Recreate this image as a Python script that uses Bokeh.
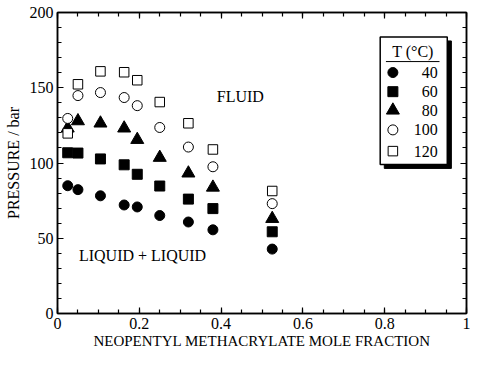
from bokeh.plotting import figure
from bokeh.models import FixedTicker, LinearAxis, Range1d, Label
from bokeh.embed import file_html
from bokeh.resources import INLINE

# ---- data ----
mole_fraction = [0.025, 0.05, 0.105, 0.163, 0.195, 0.25, 0.32, 0.38, 0.525]
p_40 = [84.9, 82.3, 78.2, 72.1, 70.8, 65.1, 60.8, 55.6, 42.8]
p_60 = [106.8, 106.6, 102.7, 98.8, 92.5, 84.7, 76.0, 69.7, 54.3]
p_80 = [123.1, 127.9, 126.4, 123.1, 115.5, 103.6, 93.2, 83.8, 63.0]
p_100 = [129.6, 144.8, 146.8, 143.5, 138.1, 123.6, 110.6, 97.5, 73.0]
p_120 = [119.7, 152.3, 160.9, 160.3, 155.0, 140.5, 126.4, 109.0, 81.4]
temperatures = ["40", "60", "80", "100", "120"]

x_ticks = [0, 0.2, 0.4, 0.6, 0.8, 1.0]
x_tick_labels = ["0", "0.2", "0.4", "0.6", "0.8", "1"]
y_ticks = [0, 50, 100, 150, 200]

FONT = "Liberation Serif"

p = figure(width=470, height=351, output_backend="svg", toolbar_location=None,
           x_range=Range1d(0, 1), y_range=Range1d(0, 200),
           min_border_left=57, min_border_right=4, min_border_top=12,
           min_border_bottom=38)
p.background_fill_color = "white"
p.border_fill_color = "white"
p.outline_line_color = "black"
p.outline_line_width = 1.5
p.xgrid.visible = False
p.ygrid.visible = False

xt = FixedTicker(ticks=x_ticks, minor_ticks=[i * 0.05 for i in range(21)])
yt = FixedTicker(ticks=y_ticks, minor_ticks=list(range(0, 201, 10)))


def style_axis(ax, show_labels=True):
    ax.axis_line_color = "black"
    ax.axis_line_width = 1.5
    ax.major_tick_in = 6
    ax.major_tick_out = 0
    ax.minor_tick_in = 4
    ax.minor_tick_out = 0
    ax.major_tick_line_width = 1.2
    ax.minor_tick_line_width = 1.2
    ax.major_label_text_font = FONT
    ax.major_label_text_font_size = "16px" if show_labels else "0px"
    ax.major_label_text_color = "black"
    ax.axis_label_text_font = FONT
    ax.axis_label_text_font_style = "normal"
    ax.axis_label_text_color = "black"


xa = p.xaxis[0]
xa.ticker = xt
xa.major_label_overrides = {v: s for v, s in zip(x_ticks, x_tick_labels)}
xa.axis_label = "NEOPENTYL METHACRYLATE MOLE FRACTION"
style_axis(xa)
xa.axis_label_text_font_size = "15px"
xa.major_label_standoff = 4
xa.axis_label_standoff = 1

ya = p.yaxis[0]
ya.ticker = yt
ya.axis_label = "PRESSURE / bar"
style_axis(ya)
ya.axis_label_text_font_size = "16px"
ya.major_label_standoff = 4
ya.axis_label_standoff = 5

top = LinearAxis(ticker=xt, major_label_overrides={v: "" for v in x_ticks})
style_axis(top, False)
top.major_label_standoff = 0
p.add_layout(top, "above")
right = LinearAxis(ticker=yt, major_label_overrides={v: "" for v in y_ticks})
style_axis(right, False)
right.major_label_standoff = 0
p.add_layout(right, "right")

# ---- series ----
series = [
    (p_40, "circle", "black", 10),
    (p_60, "square", "black", 10),
    (p_80, "triangle", "black", 13),
    (p_100, "circle", "white", 10),
    (p_120, "square", "white", 9.5),
]
for vals, marker, fill, size in series:
    p.scatter(mole_fraction, vals, marker=marker, size=size,
              fill_color=fill, line_color="black", line_width=1)

# ---- region labels ----
p.add_layout(Label(x=0.447, y=144, text="FLUID", text_font=FONT,
                   text_font_size="16px", text_align="center",
                   text_baseline="middle", text_color="black"))
p.add_layout(Label(x=0.208, y=38.4, text="LIQUID + LIQUID", text_font=FONT,
                   text_font_size="16px", text_align="center",
                   text_baseline="middle", text_color="black"))

# ---- custom legend box ----
p.quad(left=[0.799], right=[0.963], top=[181.1], bottom=[96.4],
       fill_color="black", line_color="black")
p.quad(left=[0.789], right=[0.953], top=[183.7], bottom=[99.0],
       fill_color="white", line_color="black", line_width=1.5)
p.segment(x0=[0.803], x1=[0.934], y0=[167.4], y1=[167.4],
          line_color="black", line_width=1)
p.add_layout(Label(x=0.869, y=174.1, text="T (\u00b0C)", text_font=FONT,
                   text_font_size="16px", text_align="center",
                   text_baseline="middle", text_color="black"))
row_y = [160.1, 147.4, 135.0, 122.0, 107.9]
for (vals, marker, fill, size), ty, yy in zip(series, temperatures, row_y):
    p.scatter([0.820], [yy], marker=marker, size=size,
              fill_color=fill, line_color="black", line_width=1)
    p.add_layout(Label(x=0.930, y=yy, text=ty, text_font=FONT,
                       text_font_size="16px", text_align="right",
                       text_baseline="middle", text_color="black"))

open("out.html", "w").write(file_html(p, INLINE))
